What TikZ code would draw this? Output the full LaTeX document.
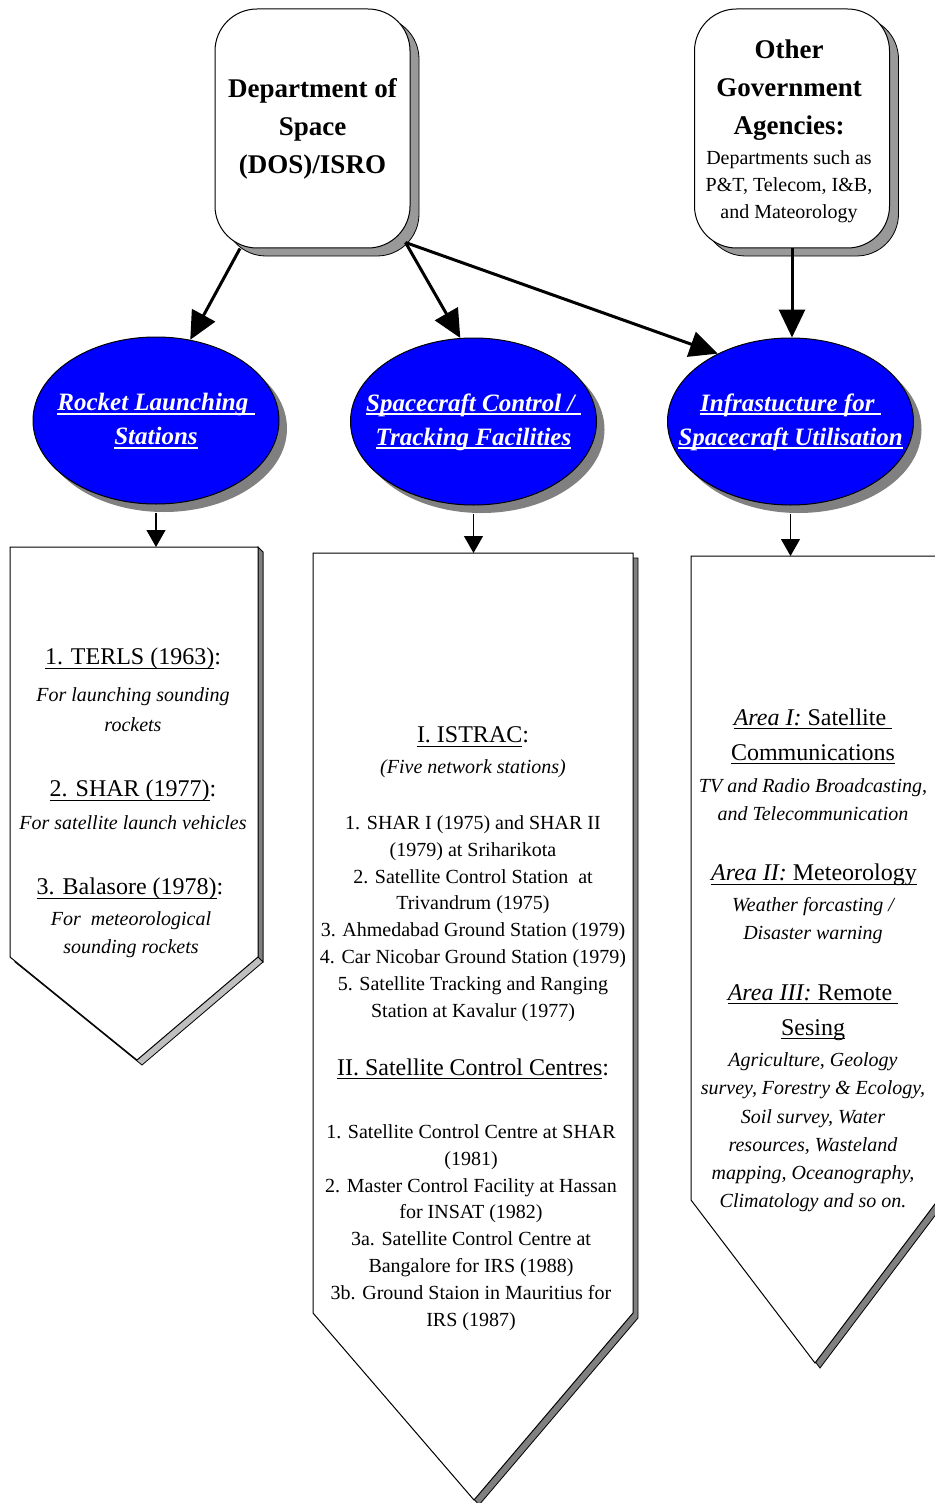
\documentclass[tikz,border=0pt]{standalone}
\usepackage{fontspec}
\setmainfont{Liberation Serif}
\usetikzlibrary{shapes.geometric,shadows,arrows.meta,calc}
\newcommand\myul[2][0.6pt]{\setbox0\hbox{#2}\rlap{\rule[-2pt]{\wd0}{#1}}\box0}
\begin{document}
\begin{tikzpicture}[x=0.5pt,y=-0.5pt,
  rbox/.style={draw=black, line width=0.5pt, fill=white, rounded corners=21pt,
    minimum width=97.5pt, minimum height=119.5pt, inner sep=0pt, align=center,
    drop shadow={shadow xshift=4.5pt, shadow yshift=-4pt, fill=black!40, draw=black, line width=0.4pt, opacity=1}},
  ell/.style={ellipse, draw=black, line width=0.5pt, fill=blue, minimum width=123pt,
    minimum height=83.5pt, inner sep=0pt,
    drop shadow={shadow xshift=4pt, shadow yshift=-4pt, fill=black!50, opacity=1}},
  elltext/.style={text=white, align=center, inner sep=0pt, yshift=-1pt,
    font=\fontsize{12.5}{17}\selectfont\bfseries\itshape},
  big/.style={line width=1.5pt, -{Triangle[length=14pt,width=13pt]}},
  small/.style={line width=0.6pt, -{Triangle[length=8.5pt,width=9.5pt]}},
  pent/.style={draw=black, line width=0.5pt, fill=white},
  pshadow/.style={draw=black, line width=0.4pt, fill=black!50},
  hd/.style={font=\fontsize{13.5}{19}\selectfont\bfseries, align=center, inner sep=0pt},
  body/.style={font=\fontsize{10}{13.4}\selectfont, align=center, inner sep=0pt, yshift=-1.5pt},
  ital/.style={font=\fontsize{10}{14}\selectfont\itshape, align=center, inner sep=0pt, yshift=-1.5pt},
  ttl/.style={font=\fontsize{12}{17.5}\selectfont, align=center, inner sep=0pt, yshift=-1.5pt}
]
\useasboundingbox (0,0) rectangle (934,1503);
\fill[white] (0,0) rectangle (934,1503);

% top boxes
\node[rbox, hd] (dos) at (312.5,128.5) {Department of\\Space\\(DOS)/ISRO};
\node[rbox] (other) at (792,128.5) {};
\node[hd] (othert) at (789,90) {Other\\Government\\Agencies:};
\node[font=\fontsize{10}{13.5}\selectfont, align=center, inner sep=0pt] (otherd) at (789,187) {Departments such as\\P\&T, Telecom, I\&B,\\and Mateorology};

% ellipses
\node[ell] (e1) at (156,420.5) {};
\node[elltext] (e1t) at (156,419) {\myul[0.9pt]{Rocket Launching\ }\\\myul[0.9pt]{Stations}};
\node[ell] (e2) at (473.5,421.5) {};
\node[elltext] (e2t) at (473.5,420) {\myul[0.9pt]{Spacecraft Control /\ }\\\myul[0.9pt]{Tracking Facilities}};
\node[ell] (e3) at (790.5,421.5) {};
\node[elltext] (e3t) at (790.5,420) {\myul[0.9pt]{Infrastucture for\ }\\\myul[0.9pt]{Spacecraft Utilisation}};

% big arrows
\draw[big] ($(dos.south west)!0.13!(dos.south east)$) -- (e1.67);
\draw[big] ($(dos.south east)+(-5,-6)$) -- (e2.99);
\draw[big] ($(dos.south east)+(-5,-6)$) -- (e3.137);
\draw[big] (other.south) -- (other.south |- e3.north);

% pentagons
\filldraw[pshadow, fill=black!25] (15,552) -- (263,552) -- (263,962) -- (142,1065) -- (15,962) -- cycle;
\filldraw[pshadow] (258,547) -- (263,552) -- (263,962) -- (258,957) -- cycle;
\filldraw[pent] (10,547) -- (258,547) -- (258,957) -- (137,1060) -- (10,957) -- cycle;
\coordinate (p1) at (156,547);

\filldraw[pshadow] (318,558) -- (638,558) -- (638,1318) -- (479,1505) -- (318,1318) -- cycle;
\filldraw[pent] (313,553) -- (633,553) -- (633,1313) -- (474,1500) -- (313,1313) -- cycle;
\coordinate (p2) at (473.5,553);

\filldraw[pshadow] (696,561) -- (943,561) -- (943,1205) -- (820,1368) -- (696,1205) -- cycle;
\filldraw[pent] (691,556) -- (938,556) -- (938,1200) -- (815,1363) -- (691,1200) -- cycle;
\coordinate (p3) at (790.5,556);

% small arrows
\draw[small] ($(e1.south)+(0,8)$) -- (p1);
\draw[small] ($(e2.south)+(0,8)$) -- (p2);
\draw[small] ($(e3.south)+(0,8)$) -- (p3);

% left box text
\node[ttl] (l1) at (133,656) {\myul{1. TERLS (1963)}:};
\node[ital, font=\fontsize{10}{15}\selectfont\itshape] (l1d) at (133,707) {For launching sounding\\rockets};
\node[ttl] (l2) at (133,788) {\myul{2. SHAR (1977)}:};
\node[ital] (l2d) at (133,820) {For satellite launch vehicles};
\node[ttl] (l3) at (130,886) {\myul{3. Balasore (1978)}:};
\node[ital] (l3d) at (131,932) {For\ \ meteorological\\sounding rockets};

% middle box text
\node[ttl] (m1) at (473,734) {\myul{I. ISTRAC}:};
\node[ital] (m1s) at (473,766) {(Five network stations)};
\node[body] (m1l) at (473,915.5) {1. SHAR I (1975) and SHAR II\\(1979) at Sriharikota\\2. Satellite Control Station\ \ at\\Trivandrum (1975)\\3. Ahmedabad Ground Station (1979)\\4. Car Nicobar Ground Station (1979)\\5. Satellite Tracking and Ranging\\Station at Kavalur (1977)};
\node[ttl] (m2) at (473,1066) {\myul{II. Satellite Control Centres}:};
\node[body] (m2l) at (471,1224.5) {1. Satellite Control Centre at SHAR\\(1981)\\2. Master Control Facility at Hassan\\for INSAT (1982)\\3a. Satellite Control Centre at\\Bangalore for IRS (1988)\\3b. Ground Staion in Mauritius for\\IRS (1987)};

% right box text
\node[ttl] (r1) at (813,733.5) {\myul{\textit{Area I:} Satellite\ }\\\myul{Communications}};
\node[ital] (r1d) at (813,797) {TV and Radio Broadcasting,\\and Telecommunication};
\node[ttl] (r2) at (814,872) {\myul{\textit{Area II:} Meteorology}};
\node[ital] (r2d) at (813,918) {Weather forcasting /\\Disaster warning};
\node[ttl] (r3) at (813,1009.5) {\myul{\textit{Area III:} Remote\ }\\\myul{Sesing}};
\node[ital, font=\fontsize{10}{14.1}\selectfont\itshape] (r3d) at (813,1129.5) {Agriculture, Geology\\survey, Forestry \& Ecology,\\Soil survey, Water\\resources, Wasteland\\mapping, Oceanography,\\Climatology and so on.};
\end{tikzpicture}
\end{document}
